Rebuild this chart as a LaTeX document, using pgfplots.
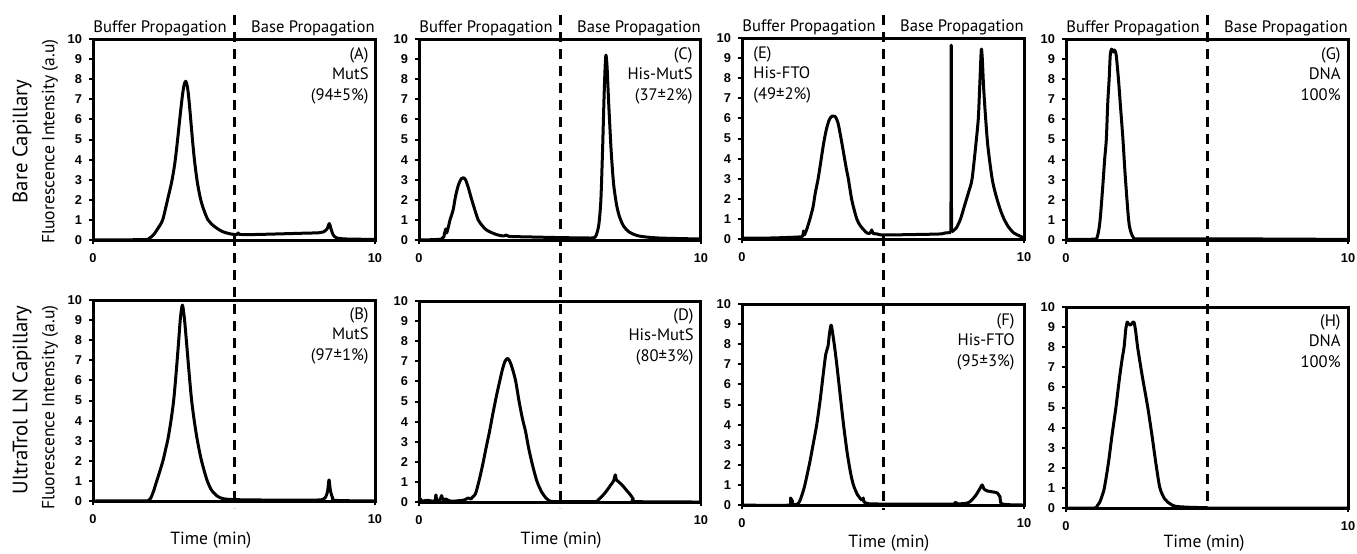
\documentclass[border=0pt]{standalone}
\usepackage{fontspec}
\setmainfont{PT Sans}
\newfontfamily\tickfont{Liberation Sans}
\usepackage{pgfplots}
\pgfplotsset{compat=1.18}

% 1 px of the reference = 0.5pt
\pgfplotsset{
  panel/.style={
    scale only axis, width=141pt, height=100.5pt,
    xmin=0, xmax=10, ymin=0, ymax=10,
    xtick={0,10}, ytick={0,1,...,10},
    xtick pos=left, ytick pos=left,
    tick align=outside, major tick length=2pt,
    tick style={black, line width=1pt},
    axis line style={black, line width=1.5pt},
    /pgf/number format/assume math mode=true,
    tick label style={font=\tickfont\bfseries\fontsize{6.4}{7}\selectfont},
    xticklabel style={yshift=-1pt},
    label style={font=\fontsize{8.8}{10}\selectfont},
    ylabel style={anchor=center},
    xlabel style={anchor=center, inner sep=0pt},
    clip=false,
    every axis plot post/.append style={black, line width=1.5pt, mark=none, line join=round, smooth, tension=0.45},
  },
}
\tikzset{
  tag/.style={inner sep=0pt, font=\fontsize{8.3}{10.3}\selectfont},
  region/.style={inner sep=0pt, font=\fontsize{8.3}{9}\selectfont},
}

\begin{document}
\begin{tikzpicture}
\useasboundingbox (0,0) rectangle (678.5pt,-276.5pt);

% ---------------- top row: bare capillary ----------------
\begin{axis}[panel, at={(46.5pt,-120pt)}, anchor=south west,
  ylabel={Fluorescence Intensity (a.u)},
  ylabel style={at={(axis description cs:-0.152,0.49)}}]
\addplot coordinates {(0,0) (1.79,0.02) (1.99,0.08) (2.14,0.25) (2.29,0.55) (2.47,1.0)
 (2.66,2.1) (2.79,2.89) (2.9,3.8) (2.99,4.87) (3.09,6.19) (3.17,7.18) (3.23,7.71)
 (3.29,7.9) (3.35,7.61) (3.41,6.87) (3.47,5.91) (3.53,4.94) (3.6,3.95) (3.69,2.96)
 (3.79,2.19) (3.89,1.66) (4.07,1.02) (4.29,0.69) (4.59,0.42) (4.89,0.3) (5.1,0.27)
 (5.15,0.35) (5.2,0.28) (5.6,0.27) (6.5,0.3) (7.5,0.34) (8.0,0.36) (8.2,0.42) (8.3,0.55)
 (8.38,0.82) (8.43,0.6) (8.52,0.25) (8.65,0.1) (9.0,0.05) (10,0.03)};
\node[region, anchor=base west] at (rel axis cs:0,1) [yshift=3.5pt] {Buffer Propagation};
\node[region, anchor=base east] at (rel axis cs:1,1) [yshift=3.5pt] {Base Propagation};
\node[tag, anchor=north east, align=right] at (rel axis cs:1,1) [xshift=-3pt, yshift=-4pt] {(A)\\MutS\\(94±5\%)};
\end{axis}

\begin{axis}[panel, at={(209.5pt,-120pt)}, anchor=south west]
\addplot coordinates {(0,0) (0.8,0.05) (0.9,0.3) (0.95,0.55) (0.98,0.35) (1.05,0.7)
 (1.1,1.0) (1.21,1.5) (1.3,2.2) (1.4,2.75) (1.5,3.05) (1.57,3.1) (1.65,3.0) (1.75,2.6)
 (1.85,2.1) (1.98,1.5) (2.1,1.0) (2.25,0.7) (2.39,0.5) (2.6,0.35) (2.8,0.25) (3.0,0.2)
 (3.1,0.25) (3.2,0.18) (4.0,0.15) (5.0,0.12) (6.0,0.1) (6.22,0.12) (6.3,0.3) (6.38,0.8)
 (6.45,2.0) (6.51,4.5) (6.56,7.0) (6.6,8.6) (6.63,9.2) (6.67,8.6) (6.72,7.0) (6.77,5.6)
 (6.82,4.3) (6.9,2.8) (7.0,1.8) (7.1,1.2) (7.25,0.7) (7.45,0.4) (7.8,0.2) (8.5,0.1) (10,0.05)};
\node[region, anchor=base west] at (rel axis cs:0,1) [yshift=3.5pt] {Buffer Propagation};
\node[region, anchor=base east] at (rel axis cs:1,1) [yshift=3.5pt] {Base Propagation};
\node[tag, anchor=north east, align=right] at (rel axis cs:1,1) [xshift=-4pt, yshift=-4pt] {(C)\\His-MutS\\(37±2\%)};
\end{axis}

\begin{axis}[panel, at={(371pt,-119.5pt)}, anchor=south west]
\addplot coordinates {(0,0.05) (1.0,0.05) (2.0,0.1) (2.15,0.15) (2.18,0.4) (2.21,0.2)
 (2.3,0.5) (2.41,1.0) (2.52,1.6) (2.6,2.3) (2.7,3.0) (2.8,3.9) (2.9,4.8) (3.0,5.5)
 (3.1,5.95) (3.2,6.12) (3.3,6.1) (3.4,5.8) (3.5,5.1) (3.6,4.3) (3.7,3.5) (3.77,3.0)
 (3.9,1.9) (4.07,1.0) (4.2,0.65) (4.43,0.3) (4.55,0.3) (4.6,0.45) (4.65,0.28) (4.8,0.25)
 (5.0,0.2) (6.0,0.22) (7.0,0.25) (7.2,0.3) (7.41,0.32)};
% detector spike
\addplot+[sharp plot] coordinates {(7.41,0.32) (7.42,9.65) (7.43,0.35)};
\addplot coordinates {(7.43,0.35) (7.6,0.55)
 (7.75,1.0) (7.9,1.7) (8.05,2.4) (8.16,3.0) (8.3,4.8) (8.38,6.0) (8.43,7.6) (8.47,9.0)
 (8.49,9.45) (8.52,9.0) (8.57,7.5) (8.64,6.0) (8.72,4.6) (8.87,3.0) (9.0,2.2) (9.15,1.5)
 (9.29,1.0) (9.45,0.6) (9.64,0.3) (9.85,0.15) (10,0.05)};
\node[region, anchor=base west] at (rel axis cs:0,1) [yshift=3.5pt] {Buffer Propagation};
\node[region, anchor=base east] at (rel axis cs:1,1) [yshift=3.5pt] {Base Propagation};
\node[tag, anchor=north west, align=left] at (rel axis cs:0,1) [xshift=5.5pt, yshift=-4pt] {(E)\\His-FTO\\(49±2\%)};
\end{axis}

\begin{axis}[panel, at={(533pt,-120pt)}, anchor=south west]
\addplot coordinates {(0,0.03) (1.0,0.04) (1.09,0.08) (1.15,0.4) (1.21,1.0) (1.3,2.6)
 (1.37,4.0) (1.43,5.0) (1.48,6.8) (1.53,8.0) (1.57,9.2) (1.62,9.5) (1.68,9.35) (1.72,9.45)
 (1.78,9.2) (1.86,8.0) (1.94,6.5) (2.02,5.0) (2.1,3.2) (2.22,1.0) (2.3,0.4) (2.4,0.1)
 (2.6,0.06) (5,0.06) (7,0.05) (10,0.03)};
\node[region, anchor=base west] at (rel axis cs:0,1) [yshift=3.5pt] {Buffer Propagation};
\node[region, anchor=base east] at (rel axis cs:1,1) [yshift=3.5pt] {Base Propagation};
\node[tag, anchor=north east, align=right] at (rel axis cs:1,1) [xshift=-3.5pt, yshift=-4pt] {(G)\\DNA\\100\%};
\end{axis}

% ---------------- bottom row: UltraTrol LN ----------------
\begin{axis}[panel, at={(46.5pt,-250.5pt)}, anchor=south west,
  ylabel={Fluorescence Intensity (a.u)},
  ylabel style={at={(axis description cs:-0.152,0.465)}},
  xlabel={Time (min)},
  xlabel style={at={(axis description cs:0.418,-0.195)}}]
\addplot coordinates {(0,0) (1.8,0.01) (1.95,0.02) (2.05,0.15) (2.15,0.5) (2.25,0.95)
 (2.37,1.48) (2.49,2.05) (2.58,2.6) (2.66,3.1) (2.76,3.95) (2.86,5.0) (2.95,6.4)
 (3.04,8.0) (3.1,9.1) (3.17,9.75) (3.24,9.1) (3.31,8.0) (3.4,6.5) (3.49,5.1) (3.58,4.1)
 (3.69,3.1) (3.84,2.05) (4.04,1.05) (4.2,0.55) (4.4,0.25) (4.6,0.12) (5,0.07) (6,0.05)
 (7.5,0.05) (8.1,0.06) (8.25,0.2) (8.32,0.5) (8.37,1.05) (8.42,0.5) (8.5,0.15) (8.6,0.03)
 (10,0.0)};
\node[tag, anchor=north east, align=right] at (rel axis cs:1,1) [xshift=-3pt, yshift=-3.5pt] {(B)\\MutS\\(97±1\%)};
\end{axis}

\begin{axis}[panel, at={(209.5pt,-251pt)}, anchor=south west,
  xlabel={Time (min)},
  xlabel style={at={(axis description cs:0.504,-0.19)}}]
\addplot coordinates {(0,0.02) (0.05,0.15) (0.1,0.05) (0.3,0.08) (0.55,0.05) (0.6,0.35)
 (0.63,0.1) (0.75,0.12) (0.8,0.32) (0.85,0.1) (0.95,0.15) (1.1,0.05) (1.3,0.05) (1.6,0.1)
 (1.75,0.2) (1.85,0.15) (1.9,0.25) (2.0,0.4) (2.12,1.0) (2.25,1.8) (2.38,2.7) (2.5,3.5)
 (2.62,4.4) (2.75,5.3) (2.86,6.0) (2.96,6.6) (3.05,7.0) (3.15,7.15) (3.25,6.9) (3.34,6.5)
 (3.43,6.0) (3.55,5.0) (3.66,4.2) (3.78,3.5) (3.9,2.6) (4.05,1.7) (4.19,1.0) (4.35,0.5)
 (4.5,0.2) (4.6,0.08) (4.8,0.02) (6.2,0.02) (6.35,0.1) (6.5,0.3) (6.65,0.55) (6.8,0.85)
 (6.9,1.05) (6.96,1.35) (7.0,1.1) (7.08,1.0) (7.2,0.85) (7.35,0.6) (7.5,0.35) (7.6,0.15)
 (7.7,0.02) (10,0.0)};
\node[tag, anchor=north east, align=right] at (rel axis cs:1,1) [xshift=-3.5pt, yshift=-3.5pt] {(D)\\His-MutS\\(80±3\%)};
\end{axis}

\begin{axis}[panel, at={(371pt,-252.5pt)}, anchor=south west,
  xlabel={Time (min)},
  xlabel style={at={(axis description cs:0.521,-0.189)}}]
\addplot coordinates {(0,0) (1.7,0.0) (1.72,0.35) (1.74,0.05) (1.95,0.03) (2.05,0.2)
 (2.15,0.6) (2.23,1.0) (2.4,2.1) (2.52,3.0) (2.65,4.0) (2.77,5.2) (2.88,6.5) (2.97,7.5)
 (3.05,7.9) (3.1,8.5) (3.16,8.95) (3.22,8.5) (3.29,7.8) (3.36,7.0) (3.48,5.5) (3.6,4.0)
 (3.73,2.6) (3.85,1.6) (3.95,1.0) (4.1,0.5) (4.25,0.25) (4.3,0.35) (4.33,0.15) (4.5,0.06)
 (5,0.05) (7.5,0.05) (7.55,0.12) (7.6,0.05) (8.0,0.1) (8.15,0.25) (8.3,0.5) (8.45,0.85)
 (8.52,1.0) (8.58,0.8) (8.7,0.7) (8.9,0.65) (9.05,0.6) (9.15,0.4) (9.23,0.05) (10,0.0)};
\node[tag, anchor=north east, align=right] at (rel axis cs:1,1) [xshift=-4.5pt, yshift=-4.5pt] {(F)\\His-FTO\\(95±3\%)};
\end{axis}

\begin{axis}[panel, at={(533pt,-254pt)}, anchor=south west,
  xlabel={Time (min)},
  xlabel style={at={(axis description cs:0.49,-0.174)}}]
\addplot coordinates {(0,0.0) (1.0,0.0) (1.1,0.1) (1.2,0.3) (1.28,0.6) (1.36,1.0)
 (1.5,2.2) (1.63,3.6) (1.77,5.0) (1.9,6.5) (2.0,7.5) (2.06,8.0) (2.12,8.9) (2.17,9.25)
 (2.22,9.15) (2.29,9.1) (2.35,9.2) (2.41,9.25) (2.47,8.8) (2.54,8.0) (2.7,6.6) (2.9,5.0)
 (3.05,3.6) (3.2,2.1) (3.33,1.0) (3.5,0.45) (3.7,0.2) (3.9,0.08) (4.5,0.03) (5,0.02)
 (5.1,0.0) (10,0.0)};
\node[tag, anchor=north east, align=right] at (rel axis cs:1,1) [xshift=-3.5pt, yshift=-3.5pt] {(H)\\DNA\\100\%};
\end{axis}

% row titles
\node[rotate=90, inner sep=0pt, font=\fontsize{10.4}{12}\selectfont] at (11pt,-70.75pt) {Bare Capillary};
\node[rotate=90, inner sep=0pt, font=\fontsize{10.4}{12}\selectfont] at (11pt,-200pt) {UltraTrol LN Capillary};

% buffer / base boundary at t = 5 min, running through both rows
\begin{scope}[line width=1.5pt, dash pattern=on 5pt off 3.5pt]
\draw (117pt,-7.5pt) -- (117pt,-254pt);
\draw (280pt,-7.5pt) -- (280pt,-254pt);
\draw (441.5pt,-7.5pt) -- (441.5pt,-255pt);
\draw (603.5pt,-7.5pt) -- (603.5pt,-254pt);
\end{scope}
\end{tikzpicture}
\end{document}
